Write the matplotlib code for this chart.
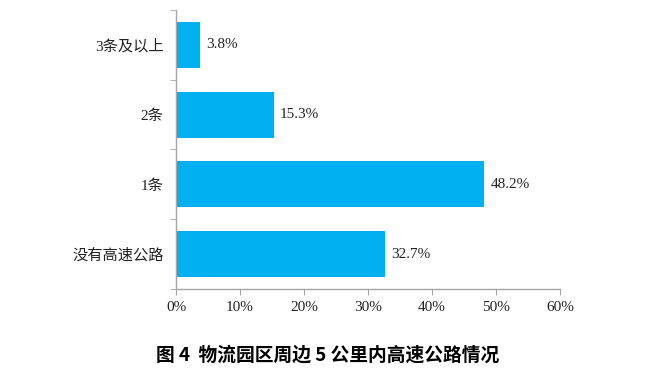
import matplotlib as mpl
mpl.use('Agg')
import matplotlib.pyplot as plt
from matplotlib.ticker import FixedLocator, PercentFormatter

plt.rcParams['font.family'] = ['Liberation Serif', 'Noto Sans CJK SC']

categories = ['没有高速公路', '1条', '2条', '3条及以上']
shares = [32.7, 48.2, 15.3, 3.8]
xticks = [0, 10, 20, 30, 40, 50, 60]
title = '图 4  物流园区周边 5 公里内高速公路情况'

fig = plt.figure(figsize=(6.6, 3.84), dpi=100)
ax = fig.add_axes([0.2667, 0.2474, 0.5818, 0.7266])

ypos = list(range(len(categories)))
bars = ax.barh(ypos, shares, height=0.66, color='#00B0F0', edgecolor='none')
for y, v in zip(ypos, shares):
    ax.text(v + 0.9, y, '%.1f%%' % v, va='center', ha='left', fontsize=11,
            color='#222222')

ax.set_xlim(0, 60)
ax.set_ylim(-0.5, len(categories) - 0.5)
ax.set_xticks(xticks)
ax.xaxis.set_major_formatter(PercentFormatter(decimals=0))
ax.set_yticks(ypos)
ax.set_yticklabels(categories)
ax.yaxis.set_minor_locator(FixedLocator([i - 0.5 for i in range(len(categories) + 1)]))

for s in ['top', 'right']:
    ax.spines[s].set_visible(False)
for s in ['left', 'bottom']:
    ax.spines[s].set_color('#A6A6A6')
    ax.spines[s].set_linewidth(1.0)

ax.tick_params(axis='y', which='major', length=0, pad=9, labelsize=11,
               labelcolor='#222222')
ax.tick_params(axis='y', which='minor', length=4, color='#A6A6A6', direction='out')
ax.tick_params(axis='x', which='major', length=4, color='#A6A6A6', direction='out',
               pad=5, labelsize=11, labelcolor='#222222')

fig.text(0.497, 0.075, title, ha='center', va='center', fontsize=13.5,
         fontweight='bold', family=['Noto Sans CJK SC', 'DejaVu Sans'])

fig.savefig('out.png', dpi=100)
